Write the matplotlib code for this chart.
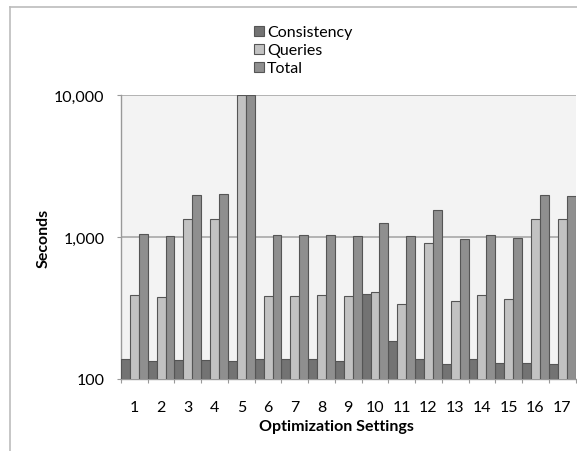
import numpy as np
import matplotlib.pyplot as plt
from matplotlib.lines import Line2D
from matplotlib.patches import Patch
from matplotlib.ticker import FixedLocator, NullFormatter

plt.rcParams['font.family'] = ['Lato', 'DejaVu Sans']

settings = [str(i) for i in range(1, 18)]
consistency = [137, 132, 134, 134, 132, 137, 137, 137, 132, 397, 184, 137, 126, 137, 128, 128, 126]
queries = [391, 376, 1340, 1340, 10000, 382, 382, 391, 382, 412, 337, 903, 352, 391, 364, 1340, 1340]
total = [1055, 1021, 1976, 2009, 10000, 1038, 1038, 1038, 1021, 1256, 1021, 1549, 963, 1038, 984, 1976, 1944]

series = [("Consistency", consistency, "#737373"),
          ("Queries", queries, "#c2c2c2"),
          ("Total", total, "#8f8f8f")]

fig = plt.figure(figsize=(5.77, 4.52), dpi=100)
ax = fig.add_axes([121 / 577, 1 - 380 / 452, 454.5 / 577, 284 / 452])
ax.set_facecolor("#f3f3f3")

x = np.arange(len(settings))
w = 1 / 3
for k, (name, vals, col) in enumerate(series):
    ax.bar(x + k * w, vals, width=w, bottom=1, align="edge", color=col,
           edgecolor="#555555", linewidth=0.8, label=name, zorder=3)

ax.set_yscale("log")
ax.set_ylim(100, 10000)
ax.set_xlim(0, len(settings))
ax.yaxis.set_major_locator(FixedLocator([100, 1000, 10000]))
ax.yaxis.set_minor_locator(FixedLocator([]))
ax.set_yticklabels(["100", "1,000", "10,000"], fontsize=11.5)
ax.grid(axis="y", color="#a8a8a8", linewidth=1.2, zorder=0)

ax.xaxis.set_major_locator(FixedLocator(np.arange(len(settings) + 1)))
ax.xaxis.set_major_formatter(NullFormatter())
ax.xaxis.set_minor_locator(FixedLocator(x + 0.5))
ax.set_xticklabels(settings, minor=True, fontsize=11.5)
ax.tick_params(axis="x", which="major", length=3, color="#999999", direction="out")
ax.tick_params(axis="x", which="minor", length=0, pad=15)
ax.tick_params(axis="y", length=3, color="#999999", pad=9)

for s in ["top", "right"]:
    ax.spines[s].set_visible(False)
for s in ["left", "bottom"]:
    ax.spines[s].set_color("#999999")
    ax.spines[s].set_linewidth(1.0)

ax.set_xlabel("Optimization Settings", fontsize=11.5, fontweight="bold")
ax.xaxis.set_label_coords(0.475, -0.141)
ax.set_ylabel("Seconds", fontsize=11.5, fontweight="bold", labelpad=2)

handles = [Patch(facecolor=c, edgecolor="#555555", linewidth=0.8) for _, _, c in series]
fig.legend(handles, [n for n, _, _ in series], loc="upper left",
           bbox_to_anchor=(248 / 577, 1 - 20 / 452), frameon=False, fontsize=11.5,
           handlelength=0.6, handleheight=0.6, handletextpad=0.2,
           labelspacing=0.25, borderaxespad=0)

# outer chart border
fig.add_artist(Line2D([9.5 / 577, 9.5 / 577], [0, 1 - 7.5 / 452], color="#bcbcbc", linewidth=1.2))
fig.add_artist(Line2D([9.5 / 577, 1], [1 - 7.5 / 452, 1 - 7.5 / 452], color="#bcbcbc", linewidth=1.2))

fig.savefig("out.png", dpi=100)
